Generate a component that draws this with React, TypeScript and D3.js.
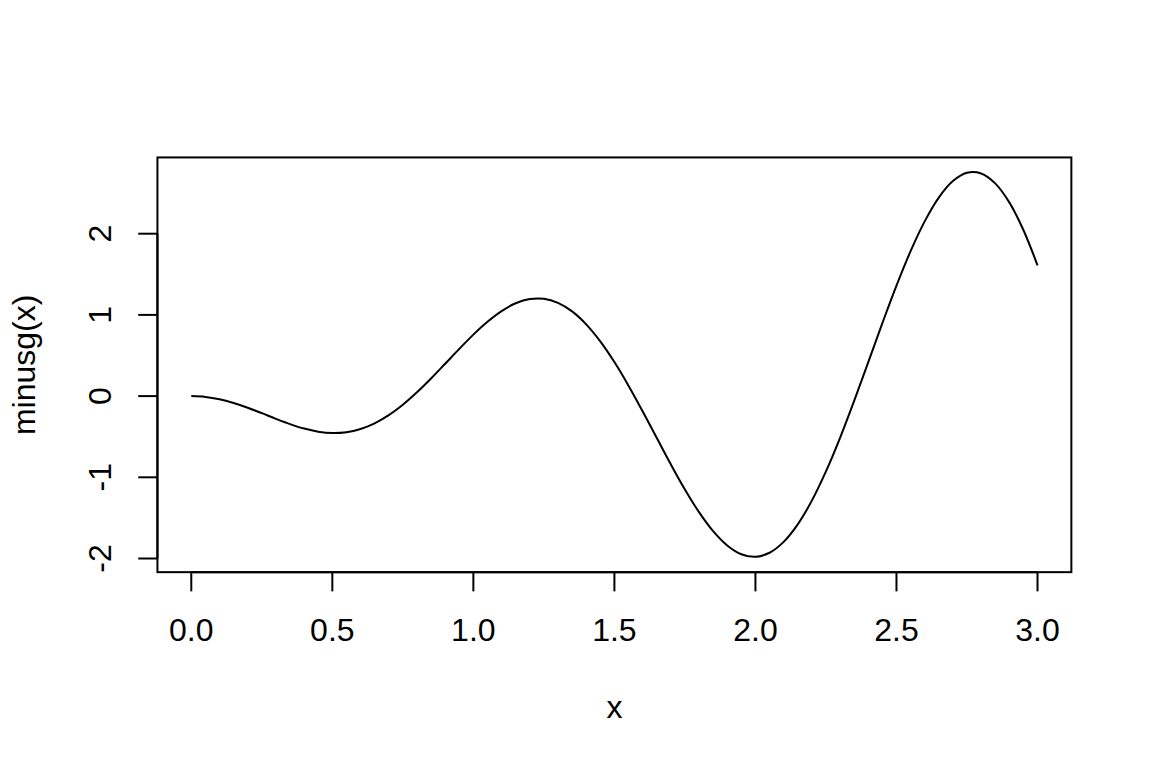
import React from "react";
import * as d3 from "d3";

const xs: number[] = [
  0, 0.05, 0.1, 0.15, 0.2, 0.25, 0.3, 0.35, 0.4, 0.45, 0.5, 0.55, 0.6, 0.65, 0.7, 0.75, 0.8, 0.85, 0.9, 0.95,
  1.0, 1.05, 1.1, 1.15, 1.2, 1.25, 1.3, 1.35, 1.4, 1.45, 1.5, 1.55, 1.6, 1.65, 1.7, 1.75, 1.8, 1.85, 1.9, 1.95,
  2.0, 2.05, 2.1, 2.15, 2.2, 2.25, 2.3, 2.35, 2.4, 2.45, 2.5, 2.55, 2.6, 2.65, 2.7, 2.75, 2.8, 2.85, 2.9, 2.95, 3.0,
];
const ys: number[] = [
  0, -0.01, -0.039, -0.085, -0.143, -0.21, -0.28, -0.345, -0.4, -0.438, -0.455, -0.445, -0.405, -0.335, -0.235, -0.106,
  0.047, 0.217, 0.398, 0.581, 0.757, 0.915, 1.047, 1.143, 1.195, 1.199, 1.148, 1.043, 0.884, 0.674, 0.419, 0.129,
  -0.186, -0.514, -0.84, -1.15, -1.429, -1.663, -1.839, -1.947, -1.979, -1.929, -1.795, -1.579, -1.287, -0.927,
  -0.513, -0.058, 0.418, 0.898, 1.36, 1.785, 2.152, 2.445, 2.648, 2.75, 2.742, 2.62, 2.386, 2.046, 1.61,
];
const xTicks: number[] = [0, 0.5, 1, 1.5, 2, 2.5, 3];
const yTicks: number[] = [-2, -1, 0, 1, 2];
const xLabel = "x";
const yLabel = "minusg(x)";

export default function App() {
  const W = 1152, H = 768;
  const LINE = 38.4;
  const left = 4.1 * LINE, right = W - 2.1 * LINE, top = 4.1 * LINE, bottom = H - 5.1 * LINE;
  const xMin = d3.min(xs)!, xMax = d3.max(xs)!;
  const yMin = d3.min(ys)!, yMax = d3.max(ys)!;
  const xPad = (xMax - xMin) * 0.04, yPad = (yMax - yMin) * 0.04;
  const x = d3.scaleLinear().domain([xMin - xPad, xMax + xPad]).range([left, right]);
  const y = d3.scaleLinear().domain([yMin - yPad, yMax + yPad]).range([bottom, top]);
  const line = d3
    .line<number>()
    .x((_, i) => x(xs[i]))
    .y((d) => y(d))
    .curve(d3.curveCatmullRom.alpha(0.5));
  const font = "'Liberation Sans', Arial, Helvetica, sans-serif";
  const fs = 32;
  const tick = 0.5 * LINE;
  return (
    <svg width={W} height={H} style={{ position: "absolute", left: 0, top: 0, background: "#fff" }} fontFamily={font}>
      <rect x={left} y={top} width={right - left} height={bottom - top} fill="none" stroke="#000" strokeWidth={2} />
      <path d={line(ys) || ""} fill="none" stroke="#000" strokeWidth={2} />
      <line x1={x(xTicks[0])} x2={x(xTicks[xTicks.length - 1])} y1={bottom} y2={bottom} stroke="#000" strokeWidth={2} />
      {xTicks.map((t) => (
        <g key={"x" + t}>
          <line x1={x(t)} x2={x(t)} y1={bottom} y2={bottom + tick} stroke="#000" strokeWidth={2} />
          <text x={x(t)} y={bottom + 1.8 * LINE} textAnchor="middle" fontSize={fs}>
            {t.toFixed(1)}
          </text>
        </g>
      ))}
      <line x1={left} x2={left} y1={y(yTicks[0])} y2={y(yTicks[yTicks.length - 1])} stroke="#000" strokeWidth={2} />
      {yTicks.map((t) => (
        <g key={"y" + t}>
          <line x1={left} x2={left - tick} y1={y(t)} y2={y(t)} stroke="#000" strokeWidth={2} />
          <text
            transform={`translate(${left - 1.2 * LINE},${y(t)}) rotate(-90)`}
            textAnchor="middle"
            fontSize={fs}
          >
            {String(t)}
          </text>
        </g>
      ))}
      <text x={(left + right) / 2} y={bottom + 3.8 * LINE} textAnchor="middle" fontSize={fs}>
        {xLabel}
      </text>
      <text
        transform={`translate(${left - 3.2 * LINE},${(top + bottom) / 2}) rotate(-90)`}
        textAnchor="middle"
        fontSize={fs}
      >
        {yLabel}
      </text>
    </svg>
  );
}
